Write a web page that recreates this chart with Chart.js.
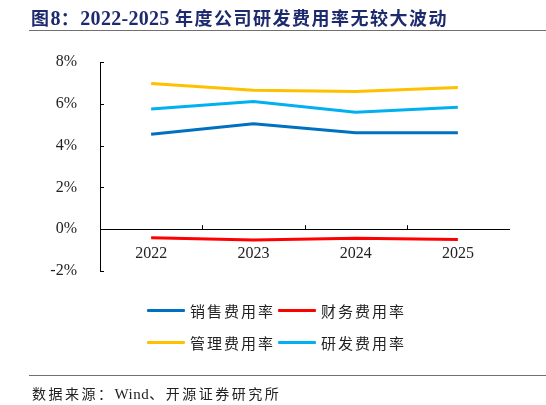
<!DOCTYPE html>
<html>
<head>
<meta charset="utf-8">
<script src="https://cdn.jsdelivr.net/npm/chart.js@4/dist/chart.umd.min.js"></script>
<style>
  body { margin: 0; background: #fff; }
  #wrap { position: relative; width: 546px; height: 405px; overflow: hidden; }
  #chart { position: absolute; left: 0; top: 0; }
  #title { position: absolute; left: 31px; top: 4px; font: bold 18px "Liberation Serif", "Noto Sans CJK SC"; color: #1d2a6e; letter-spacing: 1.5px; white-space: nowrap; }
  #title span { font-size: 20px; letter-spacing: 0.3px; }
  .rule { position: absolute; left: 29px; width: 517px; height: 0; border-top: 1.5px solid #707070; }
  #source { position: absolute; left: 32px; top: 383px; font: 14px "Liberation Serif", "Noto Sans CJK SC"; color: #222; letter-spacing: 2.5px; white-space: nowrap; }
  #source span { font-size: 15px; letter-spacing: 0.5px; }
  #legend { position: absolute; left: 147px; top: 299px; width: 280px; }
  .item { position: absolute; height: 22px; display: flex; align-items: center; font: 15px "Noto Sans CJK SC"; color: #222; letter-spacing: 2px; white-space: nowrap; }
  .item i { display: inline-block; width: 38px; height: 3px; margin-right: 5px; border-radius: 1px; }
</style>
</head>
<body>
<div id="wrap">
  <canvas id="chart" width="546" height="405"></canvas>
  <div id="title">图<span>8</span>：<span>2022-2025 </span>年度公司研发费用率无较大波动</div>
  <div class="rule" style="top:30px"></div>
  <div id="legend"></div>
  <div class="rule" style="top:375px"></div>
  <div id="source">数据来源：<span>Wind</span>、开源证券研究所</div>
</div>
<script>
var years = ["2022", "2023", "2024", "2025"];
var seriesNames = ["销售费用率", "财务费用率", "管理费用率", "研发费用率"];
var salesRate = [4.54, 5.05, 4.62, 4.62];
var financeRate = [-0.41, -0.52, -0.43, -0.49];
var adminRate = [6.97, 6.65, 6.59, 6.78];
var rdRate = [5.75, 6.11, 5.60, 5.84];
var seriesColors = ["#0070C0", "#FF0000", "#FFC000", "#00B0F0"];
var yTicks = [-2, 0, 2, 4, 6, 8];

var serif = "'Liberation Serif', 'Times New Roman', serif";

// small inward tick marks, like the original chart
var innerTicks = {
	id: "innerTicks",
	afterDraw: function(chart){
		var ctx = chart.ctx;
		var xs = chart.scales.x;
		var ys = chart.scales.y;
		var y0 = ys.getPixelForValue(0);
		var left = chart.chartArea.left;
		ctx.save();
		ctx.strokeStyle = "#000";
		ctx.lineWidth = 1;
		ctx.beginPath();
		yTicks.forEach(function(v){
			var py = Math.round(ys.getPixelForValue(v)) + 0.5;
			ctx.moveTo(left, py);
			ctx.lineTo(left + 4, py);
		});
		for (var i = 1; i < years.length; i++) {
			var px = Math.round((xs.getPixelForValue(i - 1) + xs.getPixelForValue(i)) / 2) + 0.5;
			ctx.moveTo(px, y0);
			ctx.lineTo(px, y0 - 4);
		}
		ctx.stroke();
		ctx.restore();
	}
};

function makeSet(idx, values){
	return {
		label: seriesNames[idx],
		data: values,
		borderColor: seriesColors[idx],
		backgroundColor: seriesColors[idx],
		borderWidth: 3,
		pointRadius: 0,
		tension: 0
	};
}

var chart = new Chart("chart", {
	type: "line",
	data: {
		labels: years,
		datasets: [
			makeSet(0, salesRate),
			makeSet(1, financeRate),
			makeSet(2, adminRate),
			makeSet(3, rdRate)
		]
	},
	options: {
		responsive: false,
		animation: false,
		layout: { padding: { top: 62, bottom: 134, left: 0, right: 37 } },
		plugins: {
			legend: { display: false },
			tooltip: { enabled: false }
		},
		scales: {
			x: {
				position: { y: 0 },
				offset: true,
				grid: { display: false },
				border: { display: true, color: "#000", width: 1 },
				ticks: { color: "#222", font: { family: serif, size: 16 }, padding: 7 }
			},
			y: {
				min: -2,
				max: 8,
				afterBuildTicks: function(scale){
					scale.ticks = yTicks.map(function(v){ return { value: v }; });
				},
				afterFit: function(scale){ scale.width = 100; },
				grid: { display: false },
				border: { display: true, color: "#000", width: 1 },
				ticks: {
					color: "#222",
					font: { family: serif, size: 16 },
					padding: 15,
					callback: function(v){ return v + "%"; }
				}
			}
		}
	},
	plugins: [innerTicks]
});

// legend in two rows, two items per row
var legendBox = document.getElementById("legend");
chart.data.datasets.forEach(function(ds, i){
	var el = document.createElement("div");
	el.className = "item";
	el.style.left = (i % 2 === 0 ? 0 : 131) + "px";
	el.style.top = (i < 2 ? 0 : 32) + "px";
	el.innerHTML = '<i style="background:' + ds.borderColor + '"></i>' + ds.label;
	legendBox.appendChild(el);
});
</script>
</body>
</html>
